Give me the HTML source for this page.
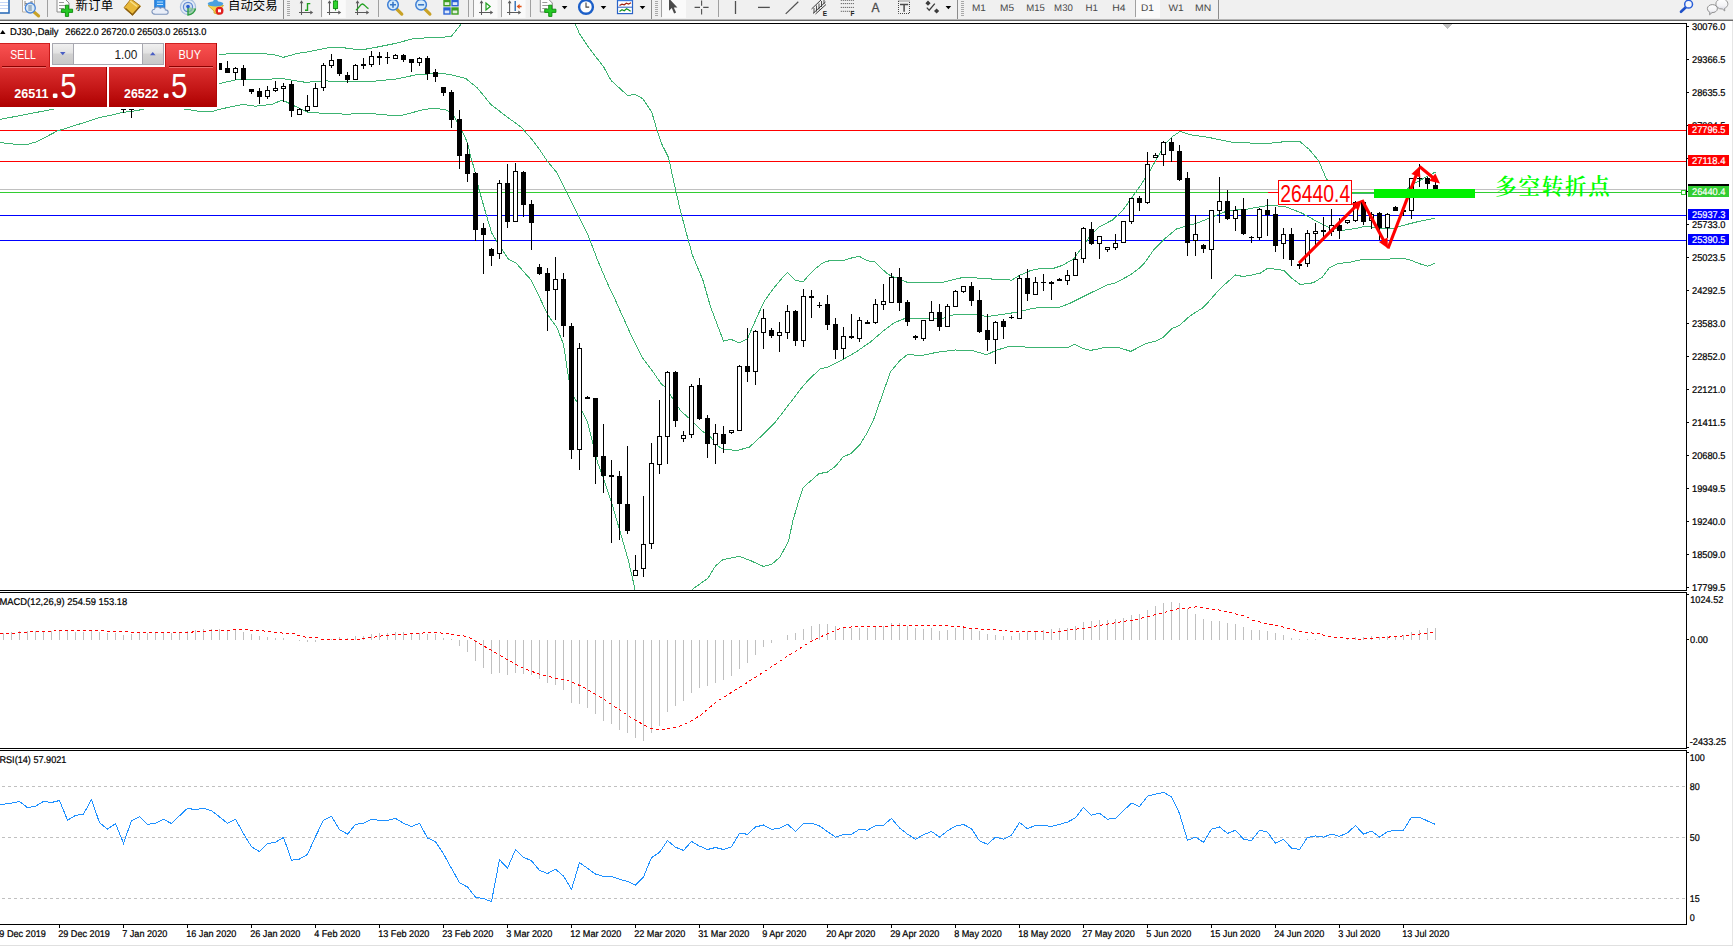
<!DOCTYPE html><html><head><meta charset="utf-8"><title>DJ30-,Daily</title>
<style>
html,body{margin:0;padding:0;background:#fff;}
body{width:1733px;height:946px;overflow:hidden;position:relative;font-family:"Liberation Sans", sans-serif;}
#tb{position:absolute;left:0;top:0;width:1733px;height:19px;background:#f0f0f0;}
#tbl1{position:absolute;left:0;top:19px;width:1733px;height:1px;background:#b4b4b4;}
#tbl2{position:absolute;left:0;top:20px;width:1733px;height:1px;background:#696969;}
svg{position:absolute;left:0;top:0;}
.t{font-family:"Liberation Sans", sans-serif;font-size:9.8px;text-rendering:geometricPrecision;fill:#000;stroke:#000;stroke-width:0.22px;}
.tw{font-family:"Liberation Sans", sans-serif;font-size:9.8px;text-rendering:geometricPrecision;fill:#fff;stroke:#fff;stroke-width:0.2px;}
.tf{font-family:"Liberation Sans", sans-serif;font-size:9.8px;text-rendering:geometricPrecision;fill:#505050;}
</style></head><body>
<div id="tb"></div><div id="tbl1"></div><div id="tbl2"></div>
<svg id="chart" width="1733" height="946" viewBox="0 0 1733 946">
<defs>
<clipPath id="ctb"><rect x="0" y="0" width="1733" height="19"/></clipPath>
<clipPath id="cm"><rect x="0" y="24" width="1686" height="566"/></clipPath>
<clipPath id="cmacd"><rect x="0" y="593" width="1686" height="155"/></clipPath>
<clipPath id="crsi"><rect x="0" y="751" width="1686" height="173"/></clipPath>
<linearGradient id="gtab" x1="0" y1="0" x2="0" y2="1"><stop offset="0" stop-color="#fa5252"/><stop offset="1" stop-color="#e23636"/></linearGradient>
<linearGradient id="gblk" x1="0" y1="0" x2="0" y2="1"><stop offset="0" stop-color="#dc3030"/><stop offset="0.55" stop-color="#c41616"/><stop offset="1" stop-color="#ae0000"/></linearGradient>
<linearGradient id="gbtn" x1="0" y1="0" x2="0" y2="1"><stop offset="0" stop-color="#f0f0f0"/><stop offset="0.45" stop-color="#e2e2e2"/><stop offset="0.5" stop-color="#d2d2d2"/><stop offset="1" stop-color="#c8c8c8"/></linearGradient>
<linearGradient id="gbub" x1="0" y1="0" x2="0" y2="1"><stop offset="0" stop-color="#ffffff"/><stop offset="0.55" stop-color="#f4f4f6"/><stop offset="1" stop-color="#cfd0dc"/></linearGradient>
</defs>
<g shape-rendering="crispEdges">
<rect x="0" y="23" width="1687" height="1" fill="#000"/>
<rect x="1686" y="23" width="1" height="902" fill="#000"/>
<rect x="0" y="590" width="1687" height="1" fill="#000"/>
<rect x="0" y="592" width="1687" height="1" fill="#000"/>
<rect x="0" y="748" width="1687" height="1" fill="#000"/>
<rect x="0" y="750" width="1687" height="1" fill="#000"/>
<rect x="0" y="924" width="1687" height="1" fill="#000"/>
<rect x="1686" y="591" width="1" height="1" fill="#fff"/>
<rect x="1686" y="749" width="1" height="1" fill="#fff"/>
<rect x="1732" y="21" width="1" height="925" fill="#e6e6e6"/>
<rect x="0" y="945" width="1733" height="1" fill="#e0e0e0"/>
</g>
<g clip-path="url(#cm)">
<g shape-rendering="crispEdges">
<rect x="0" y="130" width="1686" height="1" fill="#ff0000"/>
<rect x="0" y="161" width="1686" height="1" fill="#ff0000"/>
<rect x="0" y="189" width="1686" height="1" fill="#c0c0c0"/>
<rect x="0" y="192" width="1686" height="1" fill="#32cd32"/>
<rect x="0" y="215" width="1686" height="1" fill="#0000ff"/>
<rect x="0" y="240" width="1686" height="1" fill="#0000ff"/>
</g>
<polyline points="0.0,78.0 100.0,68.0 219.4,55.0 231.4,53.1 261.0,53.5 274.0,54.6 283.2,57.4 296.2,53.7 311.0,51.3 329.5,47.6 342.4,47.6 361.0,50.0 377.6,47.0 396.0,43.3 414.6,38.3 440.0,37.5 451.3,36.3 461.0,24.3 466.0,10.0 520.0,-40.0 570.0,8.0 575.1,23.5 579.6,34.0 588.6,47.5 603.7,67.0 611.2,80.6 627.7,95.6 635.2,94.4 642.7,98.6 651.7,112.1 657.0,130.1 662.2,145.1 664.8,150.0 668.5,157.4 674.9,187.0 680.5,211.0 687.9,238.8 692.5,255.4 702.7,279.5 710.1,305.4 714.2,316.6 723.5,341.1 730.9,339.2 739.2,343.1 747.5,338.8 752.1,328.0 758.6,313.5 764.2,301.4 770.7,292.1 778.1,282.8 783.7,276.3 787.4,272.3 795.3,280.5 803.3,281.6 807.0,277.2 815.3,268.8 820.9,264.2 826.5,261.4 832.1,260.3 844.2,260.3 849.8,258.4 859.1,256.3 867.4,260.7 874.9,262.0 886.0,272.6 890.7,275.8 897.2,278.1 907.3,282.3 925.8,282.5 944.3,282.0 960.9,277.9 975.7,277.9 994.2,279.2 1011.8,280.1 1020.1,275.1 1031.2,270.3 1040.5,268.6 1051.6,269.0 1062.7,265.3 1073.8,258.8 1083.0,245.9 1090.4,235.7 1098.5,227.3 1112.6,219.9 1122.5,210.6 1131.8,197.7 1141.0,184.7 1150.3,169.9 1157.7,157.0 1165.1,144.0 1172.5,136.6 1179.9,131.5 1191.0,134.8 1209.5,137.6 1231.7,142.2 1265.0,143.7 1283.5,141.8 1300.1,141.8 1309.4,149.6 1318.6,160.7 1326.5,179.1 1335.0,188.0 1345.0,192.5 1352.0,193.6 1374.0,193.8 1395.0,193.5 1403.5,193.0 1411.5,185.0 1419.5,180.6 1427.5,176.3 1435.5,172.0" fill="none" stroke="#3cb371" stroke-width="1" shape-rendering="crispEdges"/>
<polyline points="0.0,119.4 54.6,108.9 120.0,97.0 219.4,83.6 235.0,80.0 261.0,79.6 281.4,78.5 305.4,82.3 325.8,80.9 348.0,81.8 372.0,81.4 396.0,79.0 418.3,74.4 440.0,73.5 449.0,74.3 465.5,78.3 477.5,88.1 491.0,104.6 507.6,117.3 521.1,127.1 531.6,139.1 539.9,150.0 547.3,161.1 556.5,172.2 565.8,190.7 577.8,214.7 588.0,235.1 597.2,259.1 606.5,281.3 615.3,300.0 623.6,318.5 632.8,338.8 642.1,357.3 653.2,372.1 661.5,384.2 666.1,387.9 673.5,399.9 680.9,411.0 690.2,419.3 701.3,430.4 710.5,436.9 717.9,446.1 724.4,449.8 738.3,450.2 749.4,447.1 760.5,436.9 775.3,422.1 788.2,405.4 800.0,389.8 809.2,379.1 820.3,368.9 827.7,367.1 842.5,359.7 855.5,352.3 870.3,342.1 883.2,331.0 894.3,322.7 903.6,319.0 920.2,318.6 944.3,318.0 953.5,314.9 975.7,314.3 986.8,316.6 1003.5,314.3 1018.3,311.9 1031.2,308.8 1040.5,307.3 1059.0,307.5 1070.1,303.2 1084.9,295.8 1100.0,288.4 1107.0,284.9 1115.1,283.1 1130.2,275.0 1139.5,268.0 1144.2,263.4 1154.0,249.5 1165.1,238.4 1176.2,229.1 1183.6,226.9 1198.4,222.7 1209.5,218.0 1218.7,214.3 1228.0,210.6 1246.5,209.2 1260.0,206.8 1268.3,205.4 1284.9,206.5 1301.6,213.0 1315.4,220.6 1327.9,226.9 1343.1,230.3 1357.0,228.3 1365.3,226.2 1379.1,228.3 1391.6,228.9 1405.4,224.8 1419.3,221.3 1435.2,218.1" fill="none" stroke="#3cb371" stroke-width="1" shape-rendering="crispEdges"/>
<polyline points="0.0,142.5 16.6,144.4 27.7,144.4 37.0,141.6 57.3,131.0 79.5,124.0 100.0,117.5 113.0,114.7 123.0,112.3 131.0,111.5 137.0,110.6 144.3,108.9 165.0,104.0 184.0,109.0 200.0,111.4 212.7,111.5 218.5,109.5 242.5,104.4 255.5,106.2 272.0,104.4 282.3,100.0 296.2,106.8 307.3,112.3 329.5,113.6 348.0,114.2 366.5,113.2 392.4,115.5 403.5,115.0 422.0,110.0 435.0,108.0 440.0,109.1 447.5,110.3 454.3,116.6 462.5,131.6 467.8,143.6 470.8,157.1 474.2,168.5 478.8,188.8 486.2,214.7 491.8,233.2 496.4,240.6 502.9,250.8 508.4,259.1 515.8,262.8 530.6,279.5 539.9,298.0 547.7,314.8 557.0,327.7 563.5,344.4 568.5,377.7 573.6,396.2 581.0,409.1 587.5,422.1 592.1,440.6 597.7,462.8 602.5,475.5 611.8,503.2 621.0,534.7 628.4,560.6 633.1,580.9 634.9,589.3 640.0,615.0 662.0,640.0 685.0,600.0 692.3,589.3 708.0,578.2 715.4,566.1 722.8,559.7 739.4,556.3 750.5,560.6 763.5,566.5 771.8,564.3 780.1,556.9 788.5,541.2 793.1,519.9 798.6,501.4 803.2,487.5 819.0,473.6 827.3,472.2 835.6,466.2 843.0,457.0 851.3,453.3 859.7,445.0 867.1,432.9 873.5,420.0 882.3,395.0 890.6,371.7 899.9,360.6 907.3,354.7 922.1,355.4 936.9,352.3 955.4,350.0 973.9,351.0 986.8,354.7 996.1,350.4 1009.0,346.3 1031.2,347.3 1049.7,347.6 1068.2,347.3 1074.7,344.3 1083.0,348.6 1090.4,350.4 1100.0,348.6 1105.8,347.1 1117.4,347.1 1130.8,351.4 1146.5,343.3 1155.8,341.0 1163.4,337.2 1172.1,328.5 1179.7,325.3 1189.5,316.3 1202.3,308.1 1207.0,303.5 1219.8,289.0 1231.4,278.5 1235.5,275.0 1243.0,276.5 1252.3,275.0 1260.5,273.0 1267.4,268.4 1272.1,268.6 1276.7,269.5 1283.7,270.3 1290.7,277.3 1300.0,284.5 1313.1,282.8 1322.3,277.2 1329.3,267.7 1337.6,263.6 1350.0,262.2 1362.5,259.4 1384.7,259.4 1402.7,258.0 1412.4,260.8 1419.3,263.6 1427.6,266.3 1435.2,263.3" fill="none" stroke="#3cb371" stroke-width="1" shape-rendering="crispEdges"/>
<g shape-rendering="crispEdges">
<rect x="219" y="63" width="1" height="7" fill="#000"/>
<rect x="217" y="63" width="5" height="7" fill="#000"/>
<rect x="227" y="61" width="1" height="12" fill="#000"/>
<rect x="225" y="68" width="5" height="5" fill="#000"/>
<rect x="235" y="67" width="1" height="13" fill="#000"/>
<rect x="233" y="68" width="5" height="5" fill="#000"/>
<rect x="234" y="69" width="3" height="3" fill="#fff"/>
<rect x="243" y="65" width="1" height="21" fill="#000"/>
<rect x="241" y="68" width="5" height="12" fill="#000"/>
<rect x="251" y="89" width="1" height="5" fill="#000"/>
<rect x="249" y="89" width="5" height="3" fill="#000"/>
<rect x="259" y="88" width="1" height="16" fill="#000"/>
<rect x="257" y="91" width="5" height="6" fill="#000"/>
<rect x="267" y="86" width="1" height="13" fill="#000"/>
<rect x="265" y="90" width="5" height="7" fill="#000"/>
<rect x="266" y="91" width="3" height="5" fill="#fff"/>
<rect x="275" y="81" width="1" height="11" fill="#000"/>
<rect x="273" y="88" width="5" height="3" fill="#000"/>
<rect x="274" y="89" width="3" height="1" fill="#fff"/>
<rect x="283" y="83" width="1" height="19" fill="#000"/>
<rect x="281" y="86" width="5" height="3" fill="#000"/>
<rect x="282" y="87" width="3" height="1" fill="#fff"/>
<rect x="291" y="81" width="1" height="36" fill="#000"/>
<rect x="289" y="84" width="5" height="27" fill="#000"/>
<rect x="299" y="108" width="1" height="7" fill="#000"/>
<rect x="297" y="109" width="5" height="6" fill="#000"/>
<rect x="298" y="110" width="3" height="4" fill="#fff"/>
<rect x="307" y="95" width="1" height="17" fill="#000"/>
<rect x="305" y="106" width="5" height="5" fill="#000"/>
<rect x="306" y="107" width="3" height="3" fill="#fff"/>
<rect x="315" y="83" width="1" height="24" fill="#000"/>
<rect x="313" y="88" width="5" height="19" fill="#000"/>
<rect x="314" y="89" width="3" height="17" fill="#fff"/>
<rect x="323" y="63" width="1" height="28" fill="#000"/>
<rect x="321" y="65" width="5" height="23" fill="#000"/>
<rect x="322" y="66" width="3" height="21" fill="#fff"/>
<rect x="331" y="54" width="1" height="14" fill="#000"/>
<rect x="329" y="60" width="5" height="6" fill="#000"/>
<rect x="330" y="61" width="3" height="4" fill="#fff"/>
<rect x="339" y="59" width="1" height="17" fill="#000"/>
<rect x="337" y="59" width="5" height="15" fill="#000"/>
<rect x="347" y="72" width="1" height="11" fill="#000"/>
<rect x="345" y="75" width="5" height="5" fill="#000"/>
<rect x="355" y="64" width="1" height="16" fill="#000"/>
<rect x="353" y="65" width="5" height="15" fill="#000"/>
<rect x="354" y="66" width="3" height="13" fill="#fff"/>
<rect x="363" y="58" width="1" height="11" fill="#000"/>
<rect x="361" y="64" width="5" height="2" fill="#000"/>
<rect x="371" y="51" width="1" height="16" fill="#000"/>
<rect x="369" y="56" width="5" height="9" fill="#000"/>
<rect x="370" y="57" width="3" height="7" fill="#fff"/>
<rect x="379" y="52" width="1" height="13" fill="#000"/>
<rect x="377" y="56" width="5" height="2" fill="#000"/>
<rect x="387" y="52" width="1" height="12" fill="#000"/>
<rect x="385" y="57" width="5" height="1" fill="#000"/>
<rect x="395" y="54" width="1" height="5" fill="#000"/>
<rect x="393" y="55" width="5" height="4" fill="#000"/>
<rect x="394" y="56" width="3" height="2" fill="#fff"/>
<rect x="403" y="54" width="1" height="8" fill="#000"/>
<rect x="401" y="55" width="5" height="5" fill="#000"/>
<rect x="411" y="59" width="1" height="13" fill="#000"/>
<rect x="409" y="59" width="5" height="4" fill="#000"/>
<rect x="419" y="57" width="1" height="9" fill="#000"/>
<rect x="417" y="58" width="5" height="5" fill="#000"/>
<rect x="418" y="59" width="3" height="3" fill="#fff"/>
<rect x="427" y="56" width="1" height="24" fill="#000"/>
<rect x="425" y="58" width="5" height="16" fill="#000"/>
<rect x="435" y="69" width="1" height="13" fill="#000"/>
<rect x="433" y="72" width="5" height="5" fill="#000"/>
<rect x="443" y="87" width="1" height="9" fill="#000"/>
<rect x="441" y="87" width="5" height="6" fill="#000"/>
<rect x="451" y="90" width="1" height="38" fill="#000"/>
<rect x="449" y="92" width="5" height="28" fill="#000"/>
<rect x="459" y="110" width="1" height="59" fill="#000"/>
<rect x="457" y="119" width="5" height="37" fill="#000"/>
<rect x="467" y="143" width="1" height="39" fill="#000"/>
<rect x="465" y="154" width="5" height="20" fill="#000"/>
<rect x="475" y="172" width="1" height="69" fill="#000"/>
<rect x="473" y="173" width="5" height="57" fill="#000"/>
<rect x="483" y="223" width="1" height="51" fill="#000"/>
<rect x="481" y="228" width="5" height="7" fill="#000"/>
<rect x="491" y="248" width="1" height="18" fill="#000"/>
<rect x="489" y="249" width="5" height="7" fill="#000"/>
<rect x="499" y="180" width="1" height="79" fill="#000"/>
<rect x="497" y="183" width="5" height="71" fill="#000"/>
<rect x="498" y="184" width="3" height="69" fill="#fff"/>
<rect x="507" y="164" width="1" height="64" fill="#000"/>
<rect x="505" y="183" width="5" height="39" fill="#000"/>
<rect x="515" y="163" width="1" height="59" fill="#000"/>
<rect x="513" y="171" width="5" height="51" fill="#000"/>
<rect x="514" y="172" width="3" height="49" fill="#fff"/>
<rect x="523" y="171" width="1" height="46" fill="#000"/>
<rect x="521" y="172" width="5" height="33" fill="#000"/>
<rect x="531" y="200" width="1" height="50" fill="#000"/>
<rect x="529" y="204" width="5" height="19" fill="#000"/>
<rect x="539" y="264" width="1" height="11" fill="#000"/>
<rect x="537" y="267" width="5" height="7" fill="#000"/>
<rect x="547" y="268" width="1" height="63" fill="#000"/>
<rect x="545" y="273" width="5" height="18" fill="#000"/>
<rect x="555" y="257" width="1" height="63" fill="#000"/>
<rect x="553" y="279" width="5" height="11" fill="#000"/>
<rect x="554" y="280" width="3" height="9" fill="#fff"/>
<rect x="563" y="273" width="1" height="64" fill="#000"/>
<rect x="561" y="279" width="5" height="47" fill="#000"/>
<rect x="571" y="323" width="1" height="136" fill="#000"/>
<rect x="569" y="326" width="5" height="124" fill="#000"/>
<rect x="579" y="343" width="1" height="127" fill="#000"/>
<rect x="577" y="348" width="5" height="102" fill="#000"/>
<rect x="578" y="349" width="3" height="100" fill="#fff"/>
<rect x="587" y="396" width="1" height="3" fill="#000"/>
<rect x="585" y="397" width="5" height="2" fill="#000"/>
<rect x="595" y="398" width="1" height="86" fill="#000"/>
<rect x="593" y="398" width="5" height="59" fill="#000"/>
<rect x="603" y="424" width="1" height="69" fill="#000"/>
<rect x="601" y="456" width="5" height="20" fill="#000"/>
<rect x="611" y="460" width="1" height="83" fill="#000"/>
<rect x="609" y="475" width="5" height="2" fill="#000"/>
<rect x="619" y="471" width="1" height="69" fill="#000"/>
<rect x="617" y="476" width="5" height="28" fill="#000"/>
<rect x="627" y="446" width="1" height="88" fill="#000"/>
<rect x="625" y="504" width="5" height="27" fill="#000"/>
<rect x="635" y="555" width="1" height="21" fill="#000"/>
<rect x="633" y="570" width="5" height="6" fill="#000"/>
<rect x="634" y="571" width="3" height="4" fill="#fff"/>
<rect x="643" y="496" width="1" height="81" fill="#000"/>
<rect x="641" y="544" width="5" height="25" fill="#000"/>
<rect x="642" y="545" width="3" height="23" fill="#fff"/>
<rect x="651" y="443" width="1" height="106" fill="#000"/>
<rect x="649" y="463" width="5" height="81" fill="#000"/>
<rect x="650" y="464" width="3" height="79" fill="#fff"/>
<rect x="659" y="400" width="1" height="74" fill="#000"/>
<rect x="657" y="436" width="5" height="29" fill="#000"/>
<rect x="658" y="437" width="3" height="27" fill="#fff"/>
<rect x="667" y="371" width="1" height="93" fill="#000"/>
<rect x="665" y="372" width="5" height="65" fill="#000"/>
<rect x="666" y="373" width="3" height="63" fill="#fff"/>
<rect x="675" y="371" width="1" height="56" fill="#000"/>
<rect x="673" y="372" width="5" height="49" fill="#000"/>
<rect x="683" y="431" width="1" height="11" fill="#000"/>
<rect x="681" y="435" width="5" height="4" fill="#000"/>
<rect x="682" y="436" width="3" height="2" fill="#fff"/>
<rect x="691" y="384" width="1" height="54" fill="#000"/>
<rect x="689" y="386" width="5" height="49" fill="#000"/>
<rect x="690" y="387" width="3" height="47" fill="#fff"/>
<rect x="699" y="378" width="1" height="42" fill="#000"/>
<rect x="697" y="385" width="5" height="34" fill="#000"/>
<rect x="707" y="415" width="1" height="43" fill="#000"/>
<rect x="705" y="418" width="5" height="26" fill="#000"/>
<rect x="715" y="424" width="1" height="40" fill="#000"/>
<rect x="713" y="433" width="5" height="12" fill="#000"/>
<rect x="714" y="434" width="3" height="10" fill="#fff"/>
<rect x="723" y="426" width="1" height="27" fill="#000"/>
<rect x="721" y="434" width="5" height="10" fill="#000"/>
<rect x="731" y="430" width="1" height="4" fill="#000"/>
<rect x="729" y="430" width="5" height="3" fill="#000"/>
<rect x="730" y="431" width="3" height="1" fill="#fff"/>
<rect x="739" y="365" width="1" height="66" fill="#000"/>
<rect x="737" y="366" width="5" height="65" fill="#000"/>
<rect x="738" y="367" width="3" height="63" fill="#fff"/>
<rect x="747" y="328" width="1" height="54" fill="#000"/>
<rect x="745" y="366" width="5" height="6" fill="#000"/>
<rect x="755" y="330" width="1" height="55" fill="#000"/>
<rect x="753" y="331" width="5" height="41" fill="#000"/>
<rect x="754" y="332" width="3" height="39" fill="#fff"/>
<rect x="763" y="309" width="1" height="40" fill="#000"/>
<rect x="761" y="318" width="5" height="15" fill="#000"/>
<rect x="762" y="319" width="3" height="13" fill="#fff"/>
<rect x="771" y="328" width="1" height="10" fill="#000"/>
<rect x="769" y="330" width="5" height="6" fill="#000"/>
<rect x="779" y="322" width="1" height="30" fill="#000"/>
<rect x="777" y="332" width="5" height="4" fill="#000"/>
<rect x="778" y="333" width="3" height="2" fill="#fff"/>
<rect x="787" y="305" width="1" height="34" fill="#000"/>
<rect x="785" y="311" width="5" height="22" fill="#000"/>
<rect x="786" y="312" width="3" height="20" fill="#fff"/>
<rect x="795" y="310" width="1" height="36" fill="#000"/>
<rect x="793" y="311" width="5" height="30" fill="#000"/>
<rect x="803" y="289" width="1" height="58" fill="#000"/>
<rect x="801" y="296" width="5" height="45" fill="#000"/>
<rect x="802" y="297" width="3" height="43" fill="#fff"/>
<rect x="811" y="290" width="1" height="28" fill="#000"/>
<rect x="809" y="296" width="5" height="2" fill="#000"/>
<rect x="819" y="302" width="1" height="6" fill="#000"/>
<rect x="817" y="305" width="5" height="1" fill="#000"/>
<rect x="827" y="295" width="1" height="35" fill="#000"/>
<rect x="825" y="304" width="5" height="21" fill="#000"/>
<rect x="835" y="318" width="1" height="41" fill="#000"/>
<rect x="833" y="324" width="5" height="26" fill="#000"/>
<rect x="843" y="327" width="1" height="32" fill="#000"/>
<rect x="841" y="336" width="5" height="13" fill="#000"/>
<rect x="842" y="337" width="3" height="11" fill="#fff"/>
<rect x="851" y="314" width="1" height="25" fill="#000"/>
<rect x="849" y="336" width="5" height="2" fill="#000"/>
<rect x="859" y="317" width="1" height="25" fill="#000"/>
<rect x="857" y="320" width="5" height="19" fill="#000"/>
<rect x="858" y="321" width="3" height="17" fill="#fff"/>
<rect x="867" y="320" width="1" height="4" fill="#000"/>
<rect x="865" y="322" width="5" height="2" fill="#000"/>
<rect x="875" y="299" width="1" height="25" fill="#000"/>
<rect x="873" y="304" width="5" height="19" fill="#000"/>
<rect x="874" y="305" width="3" height="17" fill="#fff"/>
<rect x="883" y="284" width="1" height="26" fill="#000"/>
<rect x="881" y="301" width="5" height="4" fill="#000"/>
<rect x="882" y="302" width="3" height="2" fill="#fff"/>
<rect x="891" y="273" width="1" height="30" fill="#000"/>
<rect x="889" y="277" width="5" height="26" fill="#000"/>
<rect x="890" y="278" width="3" height="24" fill="#fff"/>
<rect x="899" y="268" width="1" height="43" fill="#000"/>
<rect x="897" y="277" width="5" height="26" fill="#000"/>
<rect x="907" y="300" width="1" height="26" fill="#000"/>
<rect x="905" y="302" width="5" height="20" fill="#000"/>
<rect x="915" y="335" width="1" height="5" fill="#000"/>
<rect x="913" y="336" width="5" height="2" fill="#000"/>
<rect x="923" y="320" width="1" height="21" fill="#000"/>
<rect x="921" y="320" width="5" height="19" fill="#000"/>
<rect x="922" y="321" width="3" height="17" fill="#fff"/>
<rect x="931" y="301" width="1" height="20" fill="#000"/>
<rect x="929" y="312" width="5" height="9" fill="#000"/>
<rect x="930" y="313" width="3" height="7" fill="#fff"/>
<rect x="939" y="304" width="1" height="27" fill="#000"/>
<rect x="937" y="312" width="5" height="15" fill="#000"/>
<rect x="947" y="304" width="1" height="23" fill="#000"/>
<rect x="945" y="306" width="5" height="21" fill="#000"/>
<rect x="946" y="307" width="3" height="19" fill="#fff"/>
<rect x="955" y="290" width="1" height="17" fill="#000"/>
<rect x="953" y="291" width="5" height="16" fill="#000"/>
<rect x="954" y="292" width="3" height="14" fill="#fff"/>
<rect x="963" y="286" width="1" height="7" fill="#000"/>
<rect x="961" y="286" width="5" height="6" fill="#000"/>
<rect x="962" y="287" width="3" height="4" fill="#fff"/>
<rect x="971" y="282" width="1" height="24" fill="#000"/>
<rect x="969" y="286" width="5" height="15" fill="#000"/>
<rect x="979" y="290" width="1" height="43" fill="#000"/>
<rect x="977" y="300" width="5" height="32" fill="#000"/>
<rect x="987" y="314" width="1" height="37" fill="#000"/>
<rect x="985" y="330" width="5" height="10" fill="#000"/>
<rect x="995" y="321" width="1" height="43" fill="#000"/>
<rect x="993" y="322" width="5" height="18" fill="#000"/>
<rect x="994" y="323" width="3" height="16" fill="#fff"/>
<rect x="1003" y="319" width="1" height="20" fill="#000"/>
<rect x="1001" y="321" width="5" height="6" fill="#000"/>
<rect x="1011" y="315" width="1" height="4" fill="#000"/>
<rect x="1009" y="317" width="5" height="1" fill="#000"/>
<rect x="1019" y="275" width="1" height="44" fill="#000"/>
<rect x="1017" y="278" width="5" height="41" fill="#000"/>
<rect x="1018" y="279" width="3" height="39" fill="#fff"/>
<rect x="1027" y="269" width="1" height="32" fill="#000"/>
<rect x="1025" y="278" width="5" height="16" fill="#000"/>
<rect x="1035" y="277" width="1" height="18" fill="#000"/>
<rect x="1033" y="282" width="5" height="13" fill="#000"/>
<rect x="1034" y="283" width="3" height="11" fill="#fff"/>
<rect x="1043" y="274" width="1" height="17" fill="#000"/>
<rect x="1041" y="282" width="5" height="1" fill="#000"/>
<rect x="1051" y="281" width="1" height="19" fill="#000"/>
<rect x="1049" y="282" width="5" height="2" fill="#000"/>
<rect x="1059" y="278" width="1" height="3" fill="#000"/>
<rect x="1057" y="279" width="5" height="2" fill="#000"/>
<rect x="1067" y="270" width="1" height="15" fill="#000"/>
<rect x="1065" y="275" width="5" height="6" fill="#000"/>
<rect x="1066" y="276" width="3" height="4" fill="#fff"/>
<rect x="1075" y="252" width="1" height="24" fill="#000"/>
<rect x="1073" y="259" width="5" height="17" fill="#000"/>
<rect x="1074" y="260" width="3" height="15" fill="#fff"/>
<rect x="1083" y="227" width="1" height="36" fill="#000"/>
<rect x="1081" y="228" width="5" height="31" fill="#000"/>
<rect x="1082" y="229" width="3" height="29" fill="#fff"/>
<rect x="1091" y="222" width="1" height="23" fill="#000"/>
<rect x="1089" y="229" width="5" height="15" fill="#000"/>
<rect x="1099" y="236" width="1" height="23" fill="#000"/>
<rect x="1097" y="236" width="5" height="8" fill="#000"/>
<rect x="1098" y="237" width="3" height="6" fill="#fff"/>
<rect x="1107" y="247" width="1" height="5" fill="#000"/>
<rect x="1105" y="247" width="5" height="3" fill="#000"/>
<rect x="1106" y="248" width="3" height="1" fill="#fff"/>
<rect x="1115" y="234" width="1" height="16" fill="#000"/>
<rect x="1113" y="243" width="5" height="5" fill="#000"/>
<rect x="1114" y="244" width="3" height="3" fill="#fff"/>
<rect x="1123" y="221" width="1" height="22" fill="#000"/>
<rect x="1121" y="221" width="5" height="22" fill="#000"/>
<rect x="1122" y="222" width="3" height="20" fill="#fff"/>
<rect x="1131" y="198" width="1" height="26" fill="#000"/>
<rect x="1129" y="198" width="5" height="24" fill="#000"/>
<rect x="1130" y="199" width="3" height="22" fill="#fff"/>
<rect x="1139" y="196" width="1" height="15" fill="#000"/>
<rect x="1137" y="198" width="5" height="5" fill="#000"/>
<rect x="1147" y="152" width="1" height="52" fill="#000"/>
<rect x="1145" y="164" width="5" height="39" fill="#000"/>
<rect x="1146" y="165" width="3" height="37" fill="#fff"/>
<rect x="1155" y="153" width="1" height="5" fill="#000"/>
<rect x="1153" y="155" width="5" height="3" fill="#000"/>
<rect x="1154" y="156" width="3" height="1" fill="#fff"/>
<rect x="1163" y="141" width="1" height="25" fill="#000"/>
<rect x="1161" y="142" width="5" height="13" fill="#000"/>
<rect x="1162" y="143" width="3" height="11" fill="#fff"/>
<rect x="1171" y="138" width="1" height="24" fill="#000"/>
<rect x="1169" y="142" width="5" height="9" fill="#000"/>
<rect x="1179" y="145" width="1" height="36" fill="#000"/>
<rect x="1177" y="151" width="5" height="29" fill="#000"/>
<rect x="1187" y="172" width="1" height="84" fill="#000"/>
<rect x="1185" y="178" width="5" height="65" fill="#000"/>
<rect x="1195" y="215" width="1" height="41" fill="#000"/>
<rect x="1193" y="234" width="5" height="7" fill="#000"/>
<rect x="1194" y="235" width="3" height="5" fill="#fff"/>
<rect x="1203" y="244" width="1" height="9" fill="#000"/>
<rect x="1201" y="245" width="5" height="4" fill="#000"/>
<rect x="1211" y="210" width="1" height="69" fill="#000"/>
<rect x="1209" y="210" width="5" height="40" fill="#000"/>
<rect x="1210" y="211" width="3" height="38" fill="#fff"/>
<rect x="1219" y="177" width="1" height="46" fill="#000"/>
<rect x="1217" y="201" width="5" height="10" fill="#000"/>
<rect x="1218" y="202" width="3" height="8" fill="#fff"/>
<rect x="1227" y="190" width="1" height="30" fill="#000"/>
<rect x="1225" y="201" width="5" height="18" fill="#000"/>
<rect x="1235" y="206" width="1" height="25" fill="#000"/>
<rect x="1233" y="210" width="5" height="9" fill="#000"/>
<rect x="1234" y="211" width="3" height="7" fill="#fff"/>
<rect x="1243" y="198" width="1" height="37" fill="#000"/>
<rect x="1241" y="209" width="5" height="25" fill="#000"/>
<rect x="1251" y="236" width="1" height="7" fill="#000"/>
<rect x="1249" y="237" width="5" height="1" fill="#000"/>
<rect x="1259" y="208" width="1" height="32" fill="#000"/>
<rect x="1257" y="209" width="5" height="29" fill="#000"/>
<rect x="1258" y="210" width="3" height="27" fill="#fff"/>
<rect x="1267" y="199" width="1" height="37" fill="#000"/>
<rect x="1265" y="210" width="5" height="5" fill="#000"/>
<rect x="1275" y="207" width="1" height="45" fill="#000"/>
<rect x="1273" y="214" width="5" height="32" fill="#000"/>
<rect x="1283" y="228" width="1" height="31" fill="#000"/>
<rect x="1281" y="234" width="5" height="10" fill="#000"/>
<rect x="1282" y="235" width="3" height="8" fill="#fff"/>
<rect x="1291" y="228" width="1" height="38" fill="#000"/>
<rect x="1289" y="234" width="5" height="26" fill="#000"/>
<rect x="1299" y="262" width="1" height="7" fill="#000"/>
<rect x="1297" y="264" width="5" height="2" fill="#000"/>
<rect x="1307" y="230" width="1" height="37" fill="#000"/>
<rect x="1305" y="233" width="5" height="31" fill="#000"/>
<rect x="1306" y="234" width="3" height="29" fill="#fff"/>
<rect x="1315" y="223" width="1" height="22" fill="#000"/>
<rect x="1313" y="231" width="5" height="3" fill="#000"/>
<rect x="1314" y="232" width="3" height="1" fill="#fff"/>
<rect x="1323" y="217" width="1" height="24" fill="#000"/>
<rect x="1321" y="230" width="5" height="2" fill="#000"/>
<rect x="1331" y="209" width="1" height="27" fill="#000"/>
<rect x="1329" y="225" width="5" height="7" fill="#000"/>
<rect x="1330" y="226" width="3" height="5" fill="#fff"/>
<rect x="1339" y="218" width="1" height="21" fill="#000"/>
<rect x="1337" y="225" width="5" height="6" fill="#000"/>
<rect x="1347" y="220" width="1" height="4" fill="#000"/>
<rect x="1345" y="220" width="5" height="3" fill="#000"/>
<rect x="1346" y="221" width="3" height="1" fill="#fff"/>
<rect x="1355" y="201" width="1" height="21" fill="#000"/>
<rect x="1353" y="202" width="5" height="19" fill="#000"/>
<rect x="1354" y="203" width="3" height="17" fill="#fff"/>
<rect x="1363" y="202" width="1" height="23" fill="#000"/>
<rect x="1361" y="202" width="5" height="20" fill="#000"/>
<rect x="1371" y="212" width="1" height="17" fill="#000"/>
<rect x="1369" y="214" width="5" height="7" fill="#000"/>
<rect x="1370" y="215" width="3" height="5" fill="#fff"/>
<rect x="1379" y="212" width="1" height="28" fill="#000"/>
<rect x="1377" y="213" width="5" height="15" fill="#000"/>
<rect x="1387" y="213" width="1" height="25" fill="#000"/>
<rect x="1385" y="214" width="5" height="14" fill="#000"/>
<rect x="1386" y="215" width="3" height="12" fill="#fff"/>
<rect x="1395" y="206" width="1" height="5" fill="#000"/>
<rect x="1393" y="207" width="5" height="4" fill="#000"/>
<rect x="1403" y="209" width="1" height="7" fill="#000"/>
<rect x="1401" y="210" width="5" height="2" fill="#000"/>
<rect x="1411" y="178" width="1" height="41" fill="#000"/>
<rect x="1409" y="178" width="5" height="33" fill="#000"/>
<rect x="1410" y="179" width="3" height="31" fill="#fff"/>
<rect x="1419" y="164" width="1" height="23" fill="#000"/>
<rect x="1417" y="178" width="5" height="1" fill="#000"/>
<rect x="1427" y="177" width="1" height="12" fill="#000"/>
<rect x="1425" y="178" width="5" height="6" fill="#000"/>
<rect x="1435" y="180" width="1" height="10" fill="#000"/>
<rect x="1433" y="185" width="5" height="5" fill="#000"/>
<rect x="121" y="109" width="5" height="1" fill="#000"/><rect x="123" y="109" width="1" height="4" fill="#000"/>
<rect x="129" y="109" width="5" height="1" fill="#000"/><rect x="131" y="109" width="1" height="9" fill="#000"/>
<polygon points="1442,24 1453,24 1447.5,29" fill="#c0c0c0"/>
</g>
<g shape-rendering="crispEdges">
<rect x="1268" y="192" width="10" height="1" fill="#ff0000"/>
</g>
<line x1="1299.0" y1="263.0" x2="1355.6" y2="206.4" stroke="#ff0000" stroke-width="3.1"/>
<polygon points="1362.0,200.0 1358.3,210.5 1351.5,203.7" fill="#ff0000"/>
<line x1="1362.0" y1="200.0" x2="1383.7" y2="240.6" stroke="#ff0000" stroke-width="3.1"/>
<polygon points="1388.0,248.5 1379.0,242.0 1387.5,237.4" fill="#ff0000"/>
<line x1="1388.0" y1="248.5" x2="1416.3" y2="174.9" stroke="#ff0000" stroke-width="3.1"/>
<polygon points="1419.5,166.5 1420.4,177.6 1411.4,174.1" fill="#ff0000"/>
<line x1="1419.5" y1="166.5" x2="1433.1" y2="177.8" stroke="#ff0000" stroke-width="3.1"/>
<polygon points="1440.0,183.5 1429.2,180.8 1435.4,173.4" fill="#ff0000"/>
<rect x="1374" y="189" width="101" height="9" fill="#00f000" shape-rendering="crispEdges"/>
<rect x="1278.5" y="180.5" width="73" height="24" fill="#fff" stroke="#ff0000" stroke-width="1" shape-rendering="crispEdges"/>
<text x="1280.2" y="201.8" font-family=''Liberation Sans', sans-serif' font-size="24px" fill="#ff0000" textLength="70" lengthAdjust="spacingAndGlyphs">26440.4</text>
<text x="1495.3" y="194.4" font-family="'Liberation Serif', 'Noto Serif CJK SC', serif" font-size="21.5px" font-weight="600" fill="#00ff00" textLength="114.5" lengthAdjust="spacing">多空转折点</text>
<rect x="1681.5" y="190.5" width="4" height="4" fill="#fff" stroke="#32cd32" stroke-width="1" shape-rendering="crispEdges"/>
</g>
<polygon points="0,34 5.5,34 2.7,30" fill="#000"/>
<text class="t" x="10" y="34.9" textLength="48.5" lengthAdjust="spacingAndGlyphs">DJ30-,Daily</text>
<text class="t" x="65.3" y="34.9" textLength="141" lengthAdjust="spacingAndGlyphs">26622.0 26720.0 26503.0 26513.0</text>
<g shape-rendering="crispEdges">
<rect x="1687" y="26" width="2" height="1" fill="#000"/>
<rect x="1687" y="59" width="2" height="1" fill="#000"/>
<rect x="1687" y="92" width="2" height="1" fill="#000"/>
<rect x="1687" y="125" width="2" height="1" fill="#000"/>
<rect x="1687" y="158" width="2" height="1" fill="#000"/>
<rect x="1687" y="191" width="2" height="1" fill="#000"/>
<rect x="1687" y="224" width="2" height="1" fill="#000"/>
<rect x="1687" y="257" width="2" height="1" fill="#000"/>
<rect x="1687" y="290" width="2" height="1" fill="#000"/>
<rect x="1687" y="323" width="2" height="1" fill="#000"/>
<rect x="1687" y="356" width="2" height="1" fill="#000"/>
<rect x="1687" y="389" width="2" height="1" fill="#000"/>
<rect x="1687" y="422" width="2" height="1" fill="#000"/>
<rect x="1687" y="455" width="2" height="1" fill="#000"/>
<rect x="1687" y="488" width="2" height="1" fill="#000"/>
<rect x="1687" y="521" width="2" height="1" fill="#000"/>
<rect x="1687" y="554" width="2" height="1" fill="#000"/>
<rect x="1687" y="587" width="2" height="1" fill="#000"/>
</g>
<text class="t" x="1692" y="29.9" textLength="33.5" lengthAdjust="spacingAndGlyphs">30076.0</text>
<text class="t" x="1692" y="62.9" textLength="33.5" lengthAdjust="spacingAndGlyphs">29366.5</text>
<text class="t" x="1692" y="95.9" textLength="33.5" lengthAdjust="spacingAndGlyphs">28635.5</text>
<text class="t" x="1692" y="128.9" textLength="33.5" lengthAdjust="spacingAndGlyphs">27904.5</text>
<text class="t" x="1692" y="161.9" textLength="33.5" lengthAdjust="spacingAndGlyphs">27174.0</text>
<text class="t" x="1692" y="194.9" textLength="33.5" lengthAdjust="spacingAndGlyphs">26443.0</text>
<text class="t" x="1692" y="227.9" textLength="33.5" lengthAdjust="spacingAndGlyphs">25733.0</text>
<text class="t" x="1692" y="260.9" textLength="33.5" lengthAdjust="spacingAndGlyphs">25023.5</text>
<text class="t" x="1692" y="293.9" textLength="33.5" lengthAdjust="spacingAndGlyphs">24292.5</text>
<text class="t" x="1692" y="326.9" textLength="33.5" lengthAdjust="spacingAndGlyphs">23583.0</text>
<text class="t" x="1692" y="359.9" textLength="33.5" lengthAdjust="spacingAndGlyphs">22852.0</text>
<text class="t" x="1692" y="392.9" textLength="33.5" lengthAdjust="spacingAndGlyphs">22121.0</text>
<text class="t" x="1692" y="425.9" textLength="33.5" lengthAdjust="spacingAndGlyphs">21411.5</text>
<text class="t" x="1692" y="458.9" textLength="33.5" lengthAdjust="spacingAndGlyphs">20680.5</text>
<text class="t" x="1692" y="491.9" textLength="33.5" lengthAdjust="spacingAndGlyphs">19949.5</text>
<text class="t" x="1692" y="524.9" textLength="33.5" lengthAdjust="spacingAndGlyphs">19240.0</text>
<text class="t" x="1692" y="557.9" textLength="33.5" lengthAdjust="spacingAndGlyphs">18509.0</text>
<text class="t" x="1692" y="590.9" textLength="33.5" lengthAdjust="spacingAndGlyphs">17799.5</text>
<g shape-rendering="crispEdges">
<rect x="1688" y="184" width="41" height="11" fill="#000"/>
<rect x="1688" y="124" width="41" height="11" fill="#ff0000"/>
<rect x="1688" y="155" width="41" height="11" fill="#ff0000"/>
<rect x="1688" y="186" width="41" height="11" fill="#32cd32"/>
<rect x="1688" y="209" width="41" height="11" fill="#0000ff"/>
<rect x="1688" y="234" width="41" height="11" fill="#0000ff"/>
</g>
<text class="tw" x="1692" y="132.9" textLength="33.5" lengthAdjust="spacingAndGlyphs">27796.5</text>
<text class="tw" x="1692" y="163.9" textLength="33.5" lengthAdjust="spacingAndGlyphs">27118.4</text>
<text class="tw" x="1692" y="194.9" textLength="33.5" lengthAdjust="spacingAndGlyphs">26440.4</text>
<text class="tw" x="1692" y="217.9" textLength="33.5" lengthAdjust="spacingAndGlyphs">25937.3</text>
<text class="tw" x="1692" y="242.9" textLength="33.5" lengthAdjust="spacingAndGlyphs">25390.5</text>
<text class="t" x="-0.6" y="604.9" textLength="127.8" lengthAdjust="spacingAndGlyphs">MACD(12,26,9) 254.59 153.18</text>
<g clip-path="url(#cmacd)">
<g shape-rendering="crispEdges">
<rect x="3" y="633" width="1" height="7" fill="#c0c0c0"/>
<rect x="11" y="632" width="1" height="8" fill="#c0c0c0"/>
<rect x="19" y="631" width="1" height="9" fill="#c0c0c0"/>
<rect x="27" y="631" width="1" height="9" fill="#c0c0c0"/>
<rect x="35" y="631" width="1" height="9" fill="#c0c0c0"/>
<rect x="43" y="631" width="1" height="9" fill="#c0c0c0"/>
<rect x="51" y="631" width="1" height="9" fill="#c0c0c0"/>
<rect x="59" y="630" width="1" height="10" fill="#c0c0c0"/>
<rect x="67" y="630" width="1" height="10" fill="#c0c0c0"/>
<rect x="75" y="632" width="1" height="8" fill="#c0c0c0"/>
<rect x="83" y="632" width="1" height="8" fill="#c0c0c0"/>
<rect x="91" y="630" width="1" height="10" fill="#c0c0c0"/>
<rect x="99" y="632" width="1" height="8" fill="#c0c0c0"/>
<rect x="107" y="633" width="1" height="7" fill="#c0c0c0"/>
<rect x="115" y="633" width="1" height="7" fill="#c0c0c0"/>
<rect x="123" y="635" width="1" height="5" fill="#c0c0c0"/>
<rect x="131" y="634" width="1" height="6" fill="#c0c0c0"/>
<rect x="139" y="633" width="1" height="7" fill="#c0c0c0"/>
<rect x="147" y="633" width="1" height="7" fill="#c0c0c0"/>
<rect x="155" y="633" width="1" height="7" fill="#c0c0c0"/>
<rect x="163" y="633" width="1" height="7" fill="#c0c0c0"/>
<rect x="171" y="633" width="1" height="7" fill="#c0c0c0"/>
<rect x="179" y="632" width="1" height="8" fill="#c0c0c0"/>
<rect x="187" y="631" width="1" height="9" fill="#c0c0c0"/>
<rect x="195" y="630" width="1" height="10" fill="#c0c0c0"/>
<rect x="203" y="629" width="1" height="11" fill="#c0c0c0"/>
<rect x="211" y="629" width="1" height="11" fill="#c0c0c0"/>
<rect x="219" y="629" width="1" height="11" fill="#c0c0c0"/>
<rect x="227" y="630" width="1" height="10" fill="#c0c0c0"/>
<rect x="235" y="629" width="1" height="11" fill="#c0c0c0"/>
<rect x="243" y="632" width="1" height="8" fill="#c0c0c0"/>
<rect x="251" y="634" width="1" height="6" fill="#c0c0c0"/>
<rect x="259" y="636" width="1" height="4" fill="#c0c0c0"/>
<rect x="267" y="637" width="1" height="3" fill="#c0c0c0"/>
<rect x="275" y="638" width="1" height="2" fill="#c0c0c0"/>
<rect x="283" y="638" width="1" height="2" fill="#c0c0c0"/>
<rect x="299" y="640" width="1" height="1" fill="#c0c0c0"/>
<rect x="307" y="640" width="1" height="2" fill="#c0c0c0"/>
<rect x="315" y="640" width="1" height="2" fill="#c0c0c0"/>
<rect x="331" y="639" width="1" height="1" fill="#c0c0c0"/>
<rect x="339" y="637" width="1" height="3" fill="#c0c0c0"/>
<rect x="347" y="638" width="1" height="2" fill="#c0c0c0"/>
<rect x="355" y="636" width="1" height="4" fill="#c0c0c0"/>
<rect x="363" y="636" width="1" height="4" fill="#c0c0c0"/>
<rect x="371" y="634" width="1" height="6" fill="#c0c0c0"/>
<rect x="379" y="633" width="1" height="7" fill="#c0c0c0"/>
<rect x="387" y="633" width="1" height="7" fill="#c0c0c0"/>
<rect x="395" y="632" width="1" height="8" fill="#c0c0c0"/>
<rect x="403" y="632" width="1" height="8" fill="#c0c0c0"/>
<rect x="411" y="633" width="1" height="7" fill="#c0c0c0"/>
<rect x="419" y="633" width="1" height="7" fill="#c0c0c0"/>
<rect x="427" y="634" width="1" height="6" fill="#c0c0c0"/>
<rect x="435" y="634" width="1" height="6" fill="#c0c0c0"/>
<rect x="443" y="638" width="1" height="2" fill="#c0c0c0"/>
<rect x="451" y="639" width="1" height="1" fill="#c0c0c0"/>
<rect x="459" y="640" width="1" height="6" fill="#c0c0c0"/>
<rect x="467" y="640" width="1" height="12" fill="#c0c0c0"/>
<rect x="475" y="640" width="1" height="21" fill="#c0c0c0"/>
<rect x="483" y="640" width="1" height="28" fill="#c0c0c0"/>
<rect x="491" y="640" width="1" height="34" fill="#c0c0c0"/>
<rect x="499" y="640" width="1" height="33" fill="#c0c0c0"/>
<rect x="507" y="640" width="1" height="35" fill="#c0c0c0"/>
<rect x="515" y="640" width="1" height="33" fill="#c0c0c0"/>
<rect x="523" y="640" width="1" height="34" fill="#c0c0c0"/>
<rect x="531" y="640" width="1" height="35" fill="#c0c0c0"/>
<rect x="539" y="640" width="1" height="39" fill="#c0c0c0"/>
<rect x="547" y="640" width="1" height="43" fill="#c0c0c0"/>
<rect x="555" y="640" width="1" height="45" fill="#c0c0c0"/>
<rect x="563" y="640" width="1" height="50" fill="#c0c0c0"/>
<rect x="571" y="640" width="1" height="63" fill="#c0c0c0"/>
<rect x="579" y="640" width="1" height="64" fill="#c0c0c0"/>
<rect x="587" y="640" width="1" height="68" fill="#c0c0c0"/>
<rect x="595" y="640" width="1" height="74" fill="#c0c0c0"/>
<rect x="603" y="640" width="1" height="81" fill="#c0c0c0"/>
<rect x="611" y="640" width="1" height="84" fill="#c0c0c0"/>
<rect x="619" y="640" width="1" height="90" fill="#c0c0c0"/>
<rect x="627" y="640" width="1" height="93" fill="#c0c0c0"/>
<rect x="635" y="640" width="1" height="98" fill="#c0c0c0"/>
<rect x="643" y="640" width="1" height="101" fill="#c0c0c0"/>
<rect x="651" y="640" width="1" height="93" fill="#c0c0c0"/>
<rect x="659" y="640" width="1" height="86" fill="#c0c0c0"/>
<rect x="667" y="640" width="1" height="72" fill="#c0c0c0"/>
<rect x="675" y="640" width="1" height="66" fill="#c0c0c0"/>
<rect x="683" y="640" width="1" height="61" fill="#c0c0c0"/>
<rect x="691" y="640" width="1" height="53" fill="#c0c0c0"/>
<rect x="699" y="640" width="1" height="48" fill="#c0c0c0"/>
<rect x="707" y="640" width="1" height="46" fill="#c0c0c0"/>
<rect x="715" y="640" width="1" height="43" fill="#c0c0c0"/>
<rect x="723" y="640" width="1" height="40" fill="#c0c0c0"/>
<rect x="731" y="640" width="1" height="36" fill="#c0c0c0"/>
<rect x="739" y="640" width="1" height="29" fill="#c0c0c0"/>
<rect x="747" y="640" width="1" height="23" fill="#c0c0c0"/>
<rect x="755" y="640" width="1" height="15" fill="#c0c0c0"/>
<rect x="763" y="640" width="1" height="7" fill="#c0c0c0"/>
<rect x="771" y="640" width="1" height="3" fill="#c0c0c0"/>
<rect x="787" y="635" width="1" height="5" fill="#c0c0c0"/>
<rect x="795" y="633" width="1" height="7" fill="#c0c0c0"/>
<rect x="803" y="629" width="1" height="11" fill="#c0c0c0"/>
<rect x="811" y="626" width="1" height="14" fill="#c0c0c0"/>
<rect x="819" y="624" width="1" height="16" fill="#c0c0c0"/>
<rect x="827" y="624" width="1" height="16" fill="#c0c0c0"/>
<rect x="835" y="626" width="1" height="14" fill="#c0c0c0"/>
<rect x="843" y="628" width="1" height="12" fill="#c0c0c0"/>
<rect x="851" y="628" width="1" height="12" fill="#c0c0c0"/>
<rect x="859" y="628" width="1" height="12" fill="#c0c0c0"/>
<rect x="867" y="628" width="1" height="12" fill="#c0c0c0"/>
<rect x="875" y="627" width="1" height="13" fill="#c0c0c0"/>
<rect x="883" y="626" width="1" height="14" fill="#c0c0c0"/>
<rect x="891" y="623" width="1" height="17" fill="#c0c0c0"/>
<rect x="899" y="623" width="1" height="17" fill="#c0c0c0"/>
<rect x="907" y="626" width="1" height="14" fill="#c0c0c0"/>
<rect x="915" y="628" width="1" height="12" fill="#c0c0c0"/>
<rect x="923" y="629" width="1" height="11" fill="#c0c0c0"/>
<rect x="931" y="628" width="1" height="12" fill="#c0c0c0"/>
<rect x="939" y="631" width="1" height="9" fill="#c0c0c0"/>
<rect x="947" y="630" width="1" height="10" fill="#c0c0c0"/>
<rect x="955" y="628" width="1" height="12" fill="#c0c0c0"/>
<rect x="963" y="627" width="1" height="13" fill="#c0c0c0"/>
<rect x="971" y="628" width="1" height="12" fill="#c0c0c0"/>
<rect x="979" y="631" width="1" height="9" fill="#c0c0c0"/>
<rect x="987" y="634" width="1" height="6" fill="#c0c0c0"/>
<rect x="995" y="635" width="1" height="5" fill="#c0c0c0"/>
<rect x="1003" y="636" width="1" height="4" fill="#c0c0c0"/>
<rect x="1011" y="636" width="1" height="4" fill="#c0c0c0"/>
<rect x="1019" y="633" width="1" height="7" fill="#c0c0c0"/>
<rect x="1027" y="631" width="1" height="9" fill="#c0c0c0"/>
<rect x="1035" y="631" width="1" height="9" fill="#c0c0c0"/>
<rect x="1043" y="630" width="1" height="10" fill="#c0c0c0"/>
<rect x="1051" y="629" width="1" height="11" fill="#c0c0c0"/>
<rect x="1059" y="628" width="1" height="12" fill="#c0c0c0"/>
<rect x="1067" y="628" width="1" height="12" fill="#c0c0c0"/>
<rect x="1075" y="626" width="1" height="14" fill="#c0c0c0"/>
<rect x="1083" y="622" width="1" height="18" fill="#c0c0c0"/>
<rect x="1091" y="621" width="1" height="19" fill="#c0c0c0"/>
<rect x="1099" y="620" width="1" height="20" fill="#c0c0c0"/>
<rect x="1107" y="620" width="1" height="20" fill="#c0c0c0"/>
<rect x="1115" y="619" width="1" height="21" fill="#c0c0c0"/>
<rect x="1123" y="618" width="1" height="22" fill="#c0c0c0"/>
<rect x="1131" y="615" width="1" height="25" fill="#c0c0c0"/>
<rect x="1139" y="614" width="1" height="26" fill="#c0c0c0"/>
<rect x="1147" y="610" width="1" height="30" fill="#c0c0c0"/>
<rect x="1155" y="606" width="1" height="34" fill="#c0c0c0"/>
<rect x="1163" y="603" width="1" height="37" fill="#c0c0c0"/>
<rect x="1171" y="602" width="1" height="38" fill="#c0c0c0"/>
<rect x="1179" y="603" width="1" height="37" fill="#c0c0c0"/>
<rect x="1187" y="609" width="1" height="31" fill="#c0c0c0"/>
<rect x="1195" y="614" width="1" height="26" fill="#c0c0c0"/>
<rect x="1203" y="619" width="1" height="21" fill="#c0c0c0"/>
<rect x="1211" y="621" width="1" height="19" fill="#c0c0c0"/>
<rect x="1219" y="621" width="1" height="19" fill="#c0c0c0"/>
<rect x="1227" y="623" width="1" height="17" fill="#c0c0c0"/>
<rect x="1235" y="624" width="1" height="16" fill="#c0c0c0"/>
<rect x="1243" y="627" width="1" height="13" fill="#c0c0c0"/>
<rect x="1251" y="630" width="1" height="10" fill="#c0c0c0"/>
<rect x="1259" y="630" width="1" height="10" fill="#c0c0c0"/>
<rect x="1267" y="631" width="1" height="9" fill="#c0c0c0"/>
<rect x="1275" y="633" width="1" height="7" fill="#c0c0c0"/>
<rect x="1283" y="635" width="1" height="5" fill="#c0c0c0"/>
<rect x="1291" y="638" width="1" height="2" fill="#c0c0c0"/>
<rect x="1299" y="639" width="1" height="1" fill="#c0c0c0"/>
<rect x="1307" y="639" width="1" height="1" fill="#c0c0c0"/>
<rect x="1315" y="639" width="1" height="1" fill="#c0c0c0"/>
<rect x="1347" y="639" width="1" height="1" fill="#c0c0c0"/>
<rect x="1355" y="637" width="1" height="3" fill="#c0c0c0"/>
<rect x="1363" y="637" width="1" height="3" fill="#c0c0c0"/>
<rect x="1371" y="636" width="1" height="4" fill="#c0c0c0"/>
<rect x="1379" y="637" width="1" height="3" fill="#c0c0c0"/>
<rect x="1387" y="636" width="1" height="4" fill="#c0c0c0"/>
<rect x="1395" y="636" width="1" height="4" fill="#c0c0c0"/>
<rect x="1403" y="635" width="1" height="5" fill="#c0c0c0"/>
<rect x="1411" y="632" width="1" height="8" fill="#c0c0c0"/>
<rect x="1419" y="630" width="1" height="10" fill="#c0c0c0"/>
<rect x="1427" y="628" width="1" height="12" fill="#c0c0c0"/>
<rect x="1435" y="628" width="1" height="12" fill="#c0c0c0"/>
</g>
<polyline points="0.0,633.4 13.9,633.4 15.9,632.5 27.7,632.5 31.9,631.4 52.6,631.4 55.4,630.4 102.5,630.4 105.3,631.5 126.0,631.5 129.5,632.5 191.0,632.5 194.0,631.5 205.0,631.5 207.8,630.4 228.5,630.4 231.3,629.4 240.0,629.4 246.2,629.4 249.0,630.4 262.2,630.4 264.9,631.4 270.5,631.4 273.2,632.5 280.2,632.5 282.9,633.4 295.4,633.4 297.5,635.2 300.9,635.5 303.7,636.6 306.5,637.6 318.3,638.0 321.7,639.4 359.1,639.4 361.9,638.4 364.7,638.4 366.7,637.6 373.7,637.3 377.1,636.3 386.8,635.5 392.4,634.5 406.2,634.3 410.4,633.4 421.4,633.4 424.9,632.5 439.4,632.5 442.2,633.4 447.8,633.4 450.5,634.3 456.1,634.5 458.8,635.5 467.1,636.3 469.9,638.0 474.1,639.4 475.5,641.5 491.2,650.2 507.9,659.9 523.1,668.2 539.7,674.3 556.3,678.4 570.2,681.2 584.0,687.6 600.7,697.3 617.3,708.3 633.9,719.4 650.5,728.3 661.6,729.7 675.5,727.7 689.3,722.2 700.4,715.3 717.0,701.4 739.2,687.6 764.1,671.8 789.0,655.2 811.2,641.3 827.8,633.6 841.7,628.0 858.3,626.3 883.2,626.3 899.8,625.2 932.3,625.3 961.4,626.6 971.1,628.5 996.9,629.8 1009.9,631.4 1035.7,631.7 1051.9,632.4 1068.0,630.1 1084.2,628.2 1100.3,625.3 1119.7,622.0 1135.9,619.5 1152.0,615.6 1164.9,612.4 1177.9,608.8 1187.6,608.2 1195.6,606.9 1206.9,608.2 1219.9,610.1 1232.8,613.3 1245.7,616.2 1252.2,620.1 1265.1,623.3 1281.3,626.6 1294.2,629.8 1303.9,632.1 1320.0,634.0 1329.7,636.9 1345.9,638.2 1358.8,639.2 1371.7,638.2 1391.1,636.9 1407.3,635.6 1420.2,634.0 1435.5,631.7" fill="none" stroke="#ff0000" stroke-width="1" stroke-dasharray="3 3" shape-rendering="crispEdges"/>
</g>
<g shape-rendering="crispEdges"><rect x="1687" y="639" width="2" height="1" fill="#000"/><rect x="1687" y="747" width="2" height="1" fill="#000"/><rect x="1687" y="752" width="2" height="1" fill="#000"/><rect x="1687" y="594" width="2" height="1" fill="#000"/></g>
<text class="t" x="1690.3" y="602.9" textLength="33" lengthAdjust="spacingAndGlyphs">1024.52</text>
<text class="t" x="1690" y="642.9" textLength="18" lengthAdjust="spacingAndGlyphs">0.00</text>
<text class="t" x="1689.8" y="744.9" textLength="36.2" lengthAdjust="spacingAndGlyphs">-2433.25</text>
<text class="t" x="-0.6" y="762.9" textLength="67" lengthAdjust="spacingAndGlyphs">RSI(14) 57.9021</text>
<g clip-path="url(#crsi)">
<line x1="2" y1="786.5" x2="1686" y2="786.5" stroke="#c0c0c0" stroke-width="1" stroke-dasharray="3 3" shape-rendering="crispEdges"/>
<line x1="2" y1="837.5" x2="1686" y2="837.5" stroke="#c0c0c0" stroke-width="1" stroke-dasharray="3 3" shape-rendering="crispEdges"/>
<line x1="2" y1="898.5" x2="1686" y2="898.5" stroke="#c0c0c0" stroke-width="1" stroke-dasharray="3 3" shape-rendering="crispEdges"/>
<polyline points="0.0,804.8 3.5,804.2 11.5,803.1 19.5,801.4 27.5,807.7 35.5,806.3 43.5,801.4 51.5,802.5 59.5,800.5 67.5,820.1 75.5,815.5 83.5,814.1 91.5,799.6 99.5,822.7 107.5,829.1 115.5,823.6 123.5,843.2 131.5,820.7 139.5,816.6 147.5,824.4 155.5,823.3 163.5,819.2 171.5,823.6 179.5,815.8 187.5,808.3 195.5,809.7 203.5,808.3 211.5,810.6 219.5,816.9 227.5,823.3 235.5,819.2 243.5,833.7 251.5,846.7 259.5,851.6 267.5,843.5 275.5,842.3 283.5,837.4 291.5,860.2 299.5,859.1 307.5,854.4 315.5,836.6 323.5,820.1 331.5,816.4 339.5,829.6 347.5,834.2 355.5,824.4 363.5,823.3 371.5,819.2 379.5,820.4 387.5,820.4 395.5,818.4 403.5,823.3 411.5,826.5 419.5,823.3 427.5,838.0 435.5,841.7 443.5,853.9 451.5,868.3 459.5,882.7 467.5,887.0 475.5,897.1 483.5,898.6 491.5,901.5 499.5,859.6 507.5,868.3 515.5,849.5 523.5,857.3 531.5,860.8 539.5,870.3 547.5,873.5 555.5,869.2 563.5,876.1 571.5,889.4 579.5,862.5 587.5,868.3 595.5,874.1 603.5,876.4 611.5,876.4 619.5,879.3 627.5,881.3 635.5,885.0 643.5,876.9 651.5,857.6 659.5,852.4 667.5,840.6 675.5,847.2 683.5,850.4 691.5,841.5 699.5,846.1 707.5,849.5 715.5,847.5 723.5,849.5 731.5,846.7 739.5,833.4 747.5,834.2 755.5,827.0 763.5,825.0 771.5,829.3 779.5,828.2 787.5,824.1 795.5,831.4 803.5,823.6 811.5,823.3 819.5,825.9 827.5,831.7 835.5,837.1 843.5,834.5 851.5,834.2 859.5,829.3 867.5,830.2 875.5,825.6 883.5,825.3 891.5,818.4 899.5,827.9 907.5,834.2 915.5,839.2 923.5,834.8 931.5,831.4 939.5,837.1 947.5,830.8 955.5,826.2 963.5,824.4 971.5,828.8 979.5,840.9 987.5,844.3 995.5,837.1 1003.5,839.2 1011.5,835.1 1019.5,822.4 1027.5,828.8 1035.5,825.3 1043.5,825.3 1051.5,826.5 1059.5,824.4 1067.5,822.1 1075.5,817.8 1083.5,807.4 1091.5,815.2 1099.5,813.2 1107.5,819.2 1115.5,818.4 1123.5,810.6 1131.5,803.1 1139.5,806.5 1147.5,796.2 1155.5,794.1 1163.5,792.4 1171.5,796.7 1179.5,813.5 1187.5,840.3 1195.5,837.1 1203.5,842.3 1211.5,829.1 1219.5,827.0 1227.5,833.4 1235.5,830.2 1243.5,839.2 1251.5,840.6 1259.5,830.2 1267.5,832.2 1275.5,843.2 1283.5,839.2 1291.5,848.1 1299.5,849.5 1307.5,837.4 1315.5,836.0 1323.5,837.1 1331.5,834.2 1339.5,836.3 1347.5,832.8 1355.5,825.6 1363.5,834.2 1371.5,831.1 1379.5,837.1 1387.5,831.7 1395.5,830.2 1403.5,830.2 1411.5,817.2 1419.5,817.2 1427.5,821.0 1435.5,824.4" fill="none" stroke="#1e90ff" stroke-width="1" shape-rendering="crispEdges"/>
</g>
<g shape-rendering="crispEdges">
</g>
<text class="t" x="1689.7" y="760.9" textLength="15" lengthAdjust="spacingAndGlyphs">100</text>
<text class="t" x="1689.7" y="789.9" textLength="10" lengthAdjust="spacingAndGlyphs">80</text>
<text class="t" x="1689.7" y="840.9" textLength="10" lengthAdjust="spacingAndGlyphs">50</text>
<text class="t" x="1689.7" y="901.9" textLength="10" lengthAdjust="spacingAndGlyphs">15</text>
<text class="t" x="1689.7" y="920.9" textLength="5" lengthAdjust="spacingAndGlyphs">0</text>
<g shape-rendering="crispEdges">
<rect x="-5" y="925" width="1" height="3" fill="#000"/>
<rect x="59" y="925" width="1" height="3" fill="#000"/>
<rect x="123" y="925" width="1" height="3" fill="#000"/>
<rect x="187" y="925" width="1" height="3" fill="#000"/>
<rect x="251" y="925" width="1" height="3" fill="#000"/>
<rect x="315" y="925" width="1" height="3" fill="#000"/>
<rect x="379" y="925" width="1" height="3" fill="#000"/>
<rect x="443" y="925" width="1" height="3" fill="#000"/>
<rect x="507" y="925" width="1" height="3" fill="#000"/>
<rect x="571" y="925" width="1" height="3" fill="#000"/>
<rect x="635" y="925" width="1" height="3" fill="#000"/>
<rect x="699" y="925" width="1" height="3" fill="#000"/>
<rect x="763" y="925" width="1" height="3" fill="#000"/>
<rect x="827" y="925" width="1" height="3" fill="#000"/>
<rect x="891" y="925" width="1" height="3" fill="#000"/>
<rect x="955" y="925" width="1" height="3" fill="#000"/>
<rect x="1019" y="925" width="1" height="3" fill="#000"/>
<rect x="1083" y="925" width="1" height="3" fill="#000"/>
<rect x="1147" y="925" width="1" height="3" fill="#000"/>
<rect x="1211" y="925" width="1" height="3" fill="#000"/>
<rect x="1275" y="925" width="1" height="3" fill="#000"/>
<rect x="1339" y="925" width="1" height="3" fill="#000"/>
<rect x="1403" y="925" width="1" height="3" fill="#000"/>
</g>
<text class="t" x="-5.8" y="936.9" textLength="51.7" lengthAdjust="spacingAndGlyphs">19 Dec 2019</text>
<text class="t" x="58.2" y="936.9" textLength="51.7" lengthAdjust="spacingAndGlyphs">29 Dec 2019</text>
<text class="t" x="122.2" y="936.9" textLength="45.1" lengthAdjust="spacingAndGlyphs">7 Jan 2020</text>
<text class="t" x="186.2" y="936.9" textLength="50.2" lengthAdjust="spacingAndGlyphs">16 Jan 2020</text>
<text class="t" x="250.2" y="936.9" textLength="50.2" lengthAdjust="spacingAndGlyphs">26 Jan 2020</text>
<text class="t" x="314.2" y="936.9" textLength="46.1" lengthAdjust="spacingAndGlyphs">4 Feb 2020</text>
<text class="t" x="378.2" y="936.9" textLength="51.2" lengthAdjust="spacingAndGlyphs">13 Feb 2020</text>
<text class="t" x="442.2" y="936.9" textLength="51.2" lengthAdjust="spacingAndGlyphs">23 Feb 2020</text>
<text class="t" x="506.2" y="936.9" textLength="46.1" lengthAdjust="spacingAndGlyphs">3 Mar 2020</text>
<text class="t" x="570.2" y="936.9" textLength="51.2" lengthAdjust="spacingAndGlyphs">12 Mar 2020</text>
<text class="t" x="634.2" y="936.9" textLength="51.2" lengthAdjust="spacingAndGlyphs">22 Mar 2020</text>
<text class="t" x="698.2" y="936.9" textLength="51.2" lengthAdjust="spacingAndGlyphs">31 Mar 2020</text>
<text class="t" x="762.2" y="936.9" textLength="44.1" lengthAdjust="spacingAndGlyphs">9 Apr 2020</text>
<text class="t" x="826.2" y="936.9" textLength="49.2" lengthAdjust="spacingAndGlyphs">20 Apr 2020</text>
<text class="t" x="890.2" y="936.9" textLength="49.2" lengthAdjust="spacingAndGlyphs">29 Apr 2020</text>
<text class="t" x="954.2" y="936.9" textLength="47.6" lengthAdjust="spacingAndGlyphs">8 May 2020</text>
<text class="t" x="1018.2" y="936.9" textLength="52.7" lengthAdjust="spacingAndGlyphs">18 May 2020</text>
<text class="t" x="1082.2" y="936.9" textLength="52.7" lengthAdjust="spacingAndGlyphs">27 May 2020</text>
<text class="t" x="1146.2" y="936.9" textLength="45.1" lengthAdjust="spacingAndGlyphs">5 Jun 2020</text>
<text class="t" x="1210.2" y="936.9" textLength="50.2" lengthAdjust="spacingAndGlyphs">15 Jun 2020</text>
<text class="t" x="1274.2" y="936.9" textLength="50.2" lengthAdjust="spacingAndGlyphs">24 Jun 2020</text>
<text class="t" x="1338.2" y="936.9" textLength="42.1" lengthAdjust="spacingAndGlyphs">3 Jul 2020</text>
<text class="t" x="1402.2" y="936.9" textLength="47.1" lengthAdjust="spacingAndGlyphs">13 Jul 2020</text>
<g shape-rendering="crispEdges">
<rect x="0" y="41" width="219" height="68" fill="#fff"/>
<rect x="0" y="43" width="50" height="24" fill="url(#gtab)"/>
<rect x="165" y="43" width="52" height="24" fill="url(#gtab)"/>
<rect x="0" y="43" width="50" height="1" fill="#d02020"/>
<rect x="165" y="43" width="52" height="1" fill="#d02020"/>
<rect x="49" y="43" width="1" height="24" fill="#c81818"/>
<rect x="165" y="43" width="1" height="24" fill="#c81818"/>
<rect x="0" y="67" width="107" height="40" fill="url(#gblk)"/>
<rect x="109" y="67" width="108" height="40" fill="url(#gblk)"/>
<rect x="106" y="67" width="1" height="40" fill="#a80000"/>
<rect x="216" y="43" width="1" height="64" fill="#b00808"/>
<rect x="2" y="66" width="44" height="1" fill="#8c0000"/><rect x="2" y="67" width="44" height="1" fill="#f06a6a"/>
<rect x="169" y="66" width="44" height="1" fill="#8c0000"/><rect x="169" y="67" width="44" height="1" fill="#f06a6a"/>
<rect x="52" y="43" width="112" height="22" fill="#a8a8b0"/>
<rect x="53" y="44" width="110" height="20" fill="#fff"/>
<rect x="53" y="44" width="20" height="20" fill="url(#gbtn)"/>
<rect x="143" y="44" width="20" height="20" fill="url(#gbtn)"/>
<rect x="73" y="44" width="1" height="20" fill="#a8a8b0"/>
<rect x="142" y="44" width="1" height="20" fill="#a8a8b0"/>
</g>
<polygon points="60,52 65.5,52 62.75,55.2" fill="#4a5ec4"/>
<polygon points="150,55.2 155.5,55.2 152.75,52" fill="#4a5ec4"/>
<text x="10.3" y="59" font-family="'Liberation Sans', sans-serif" font-size="12px" fill="#fff" textLength="25.5" lengthAdjust="spacingAndGlyphs">SELL</text>
<text x="178.5" y="59" font-family="'Liberation Sans', sans-serif" font-size="12px" fill="#fff" textLength="22.5" lengthAdjust="spacingAndGlyphs">BUY</text>
<text x="114.4" y="59" font-family="'Liberation Sans', sans-serif" font-size="12px" fill="#1a1a1a" textLength="23" lengthAdjust="spacingAndGlyphs">1.00</text>
<text x="14.3" y="97.5" font-family="'Liberation Sans', sans-serif" font-size="12px" font-weight="bold" fill="#fff" textLength="34.3" lengthAdjust="spacingAndGlyphs">26511</text>
<text x="124" y="97.5" font-family="'Liberation Sans', sans-serif" font-size="12px" font-weight="bold" fill="#fff" textLength="34.5" lengthAdjust="spacingAndGlyphs">26522</text>
<rect x="52.8" y="93.4" width="4.7" height="4.7" rx="1.3" fill="#fff"/>
<rect x="163.8" y="93.4" width="4.7" height="4.7" rx="1.3" fill="#fff"/>
<text x="60.3" y="98" font-family="'Liberation Sans', sans-serif" font-size="35px" fill="#fff" textLength="16.4" lengthAdjust="spacingAndGlyphs">5</text>
<text x="171" y="98" font-family="'Liberation Sans', sans-serif" font-size="35px" fill="#fff" textLength="16.4" lengthAdjust="spacingAndGlyphs">5</text>
<g clip-path="url(#ctb)"><rect x="-2" y="-2" width="11" height="15" fill="#fff" stroke="#2f6fba" stroke-width="1.6"/>
<path d="M0 2.5h8M0 5.5h8M0 8.5h8" stroke="#c6d6f6" stroke-width="1"/>
<path d="M22.5 -1h12v13h-12z" fill="#fbfbfb" stroke="#b8b0a4" stroke-width="1"/>
<path d="M25 1v5M25 3.5h2M32 1v5M30 2h2" stroke="#8a8a8a" stroke-width="1"/>
<line x1="34" y1="12" x2="38.6" y2="16" stroke="#c9a227" stroke-width="3" stroke-linecap="round"/>
<circle cx="30.3" cy="8" r="5" fill="#d6e8f6" fill-opacity="0.9" stroke="#4a86d8" stroke-width="1.3"/>
<rect x="28.3" y="5" width="3.5" height="6" fill="#9fb4c6"/>
<rect x="47" y="0" width="1" height="17" fill="#a0a0a0" shape-rendering="crispEdges"/>
<path d="M57 -1h8l4 4v9h-12z" fill="#fdfdfd" stroke="#8c8c8c" stroke-width="1"/>
<path d="M59 2.5h5M59 5.5h7M59 8.5h5" stroke="#9a9a9a" stroke-width="1.2"/>
<path d="M65.4 5.2h3.2v4h4v3.2h-4v4h-3.2v-4h-4v-3.2h4z" fill="#25c825" stroke="#0b8a0b" stroke-width="0.9"/>
<text x="75.6" y="9.6" font-family="'Liberation Sans', 'Noto Sans CJK SC', sans-serif" font-size="12px" fill="#000" textLength="37.6" lengthAdjust="spacingAndGlyphs">新订单</text>
<path d="M131 -1l9.5 7l-8 9.2l-8.5 -7.5z" fill="#e9b93a" stroke="#a9781a" stroke-width="1"/>
<path d="M125.5 8.5l7 6.2l7.5 -8.5" fill="none" stroke="#8a5e10" stroke-width="1.4"/>
<path d="M130 1l7 5.5" stroke="#f8e08a" stroke-width="1.5"/>
<rect x="154.8" y="-1" width="10" height="8.4" fill="#2f8fe8" stroke="#1a6fd0" stroke-width="1"/>
<path d="M157 2h6M157 4.5h6" stroke="#bfe0ff" stroke-width="1"/>
<path d="M155.4 14.3c-4.2 0 -4.6 -4.6 -1 -5c0.6 -2.6 4.4 -3 5.8 -1c2.2 -1.6 5.4 -0.3 5.2 1.6c3.8 0.2 3.6 4.4 0 4.4z" fill="#e9eef8" stroke="#7e95bd" stroke-width="1.1"/>
<circle cx="188" cy="7" r="7.6" fill="#e3ebf5" stroke="#a9bfdf" stroke-width="1.2"/>
<circle cx="188" cy="7" r="4.6" fill="#d2dff0" stroke="#5f88d2" stroke-width="1.2"/>
<path d="M188 7v8a8 8 0 0 0 7.5 -6.5" fill="#7fc08a" fill-opacity="0.7" stroke="#2f9e44" stroke-width="1.4"/>
<circle cx="188" cy="6.6" r="1.8" fill="#2a5fd0"/>
<path d="M208 5.5h15.5l-5 6v3l-4.5 -1.5v-2z" fill="#f6d24a" stroke="#c9a227" stroke-width="0.8"/>
<ellipse cx="215.5" cy="3.8" rx="7.8" ry="2.6" fill="#4aa0e0"/>
<path d="M212 3.5l2.5 -5h2l2.5 5z" fill="#4aa0e0"/>
<circle cx="219.5" cy="10.8" r="4" fill="#e02020"/>
<rect x="218" y="9.3" width="3" height="3" fill="#fff"/>
<text x="228" y="9.6" font-family="'Liberation Sans', 'Noto Sans CJK SC', sans-serif" font-size="12px" fill="#000" textLength="49.6" lengthAdjust="spacingAndGlyphs">自动交易</text>
<rect x="283" y="0" width="1" height="19" fill="#8c8c8c" shape-rendering="crispEdges"/>
<rect x="287" y="1" width="3" height="1" fill="#a8a8a8" shape-rendering="crispEdges"/>
<rect x="287" y="3" width="3" height="1" fill="#a8a8a8" shape-rendering="crispEdges"/>
<rect x="287" y="5" width="3" height="1" fill="#a8a8a8" shape-rendering="crispEdges"/>
<rect x="287" y="7" width="3" height="1" fill="#a8a8a8" shape-rendering="crispEdges"/>
<rect x="287" y="9" width="3" height="1" fill="#a8a8a8" shape-rendering="crispEdges"/>
<rect x="287" y="11" width="3" height="1" fill="#a8a8a8" shape-rendering="crispEdges"/>
<rect x="287" y="13" width="3" height="1" fill="#a8a8a8" shape-rendering="crispEdges"/>
<rect x="287" y="15" width="3" height="1" fill="#a8a8a8" shape-rendering="crispEdges"/>
<path d="M301.5 1.5V15M299 12.5H312" stroke="#5a5a5a" stroke-width="1.05" fill="none"/>
<path d="M301.5 0.3l-1.9 2.9h3.8zM313.2 12.5l-2.9 -1.9v3.8z" fill="#5a5a5a"/>
<path d="M307.5 3v8M305 10.2h2.5M307.5 3.6h2.8" stroke="#1fa01f" stroke-width="1.4" fill="none"/>
<rect x="321" y="0" width="1" height="17" fill="#a0a0a0" shape-rendering="crispEdges"/>
<rect x="322.4" y="0" width="23.400000000000034" height="18" fill="#fafafa"/>
<path d="M329.5 1.5V15M327 12.5H340" stroke="#5a5a5a" stroke-width="1.05" fill="none"/>
<path d="M329.5 0.3l-1.9 2.9h3.8zM341.2 12.5l-2.9 -1.9v3.8z" fill="#5a5a5a"/>
<path d="M335.5 -1v11.5" stroke="#109010" stroke-width="1.2"/>
<rect x="333.4" y="1" width="4.2" height="7.5" fill="#2fd52f" stroke="#109010" stroke-width="0.9"/>
<path d="M357.5 1.5V15M355 12.5H368" stroke="#5a5a5a" stroke-width="1.05" fill="none"/>
<path d="M357.5 0.3l-1.9 2.9h3.8zM369.2 12.5l-2.9 -1.9v3.8z" fill="#5a5a5a"/>
<path d="M356 10.2c3 -2 4.5 -6.5 6.5 -6.2s3.5 3.4 6 4.6" fill="none" stroke="#1fa01f" stroke-width="1.3"/>
<rect x="378" y="0" width="1" height="17" fill="#a0a0a0" shape-rendering="crispEdges"/>
<line x1="397" y1="9.3" x2="401.8" y2="14.100000000000001" stroke="#c9a227" stroke-width="3.2" stroke-linecap="round"/>
<circle cx="393" cy="4.8" r="5.3" fill="#d6ebfa" stroke="#3f7fd6" stroke-width="1.5"/>
<path d="M390 4.8h6M393 1.7999999999999998v6" stroke="#3a78c8" stroke-width="1.6"/>
<line x1="425.1" y1="9.3" x2="429.90000000000003" y2="14.100000000000001" stroke="#c9a227" stroke-width="3.2" stroke-linecap="round"/>
<circle cx="421.1" cy="4.8" r="5.3" fill="#d6ebfa" stroke="#3f7fd6" stroke-width="1.5"/>
<path d="M418.1 4.8h6" stroke="#3a78c8" stroke-width="1.6"/>
<rect x="443.3" y="-1" width="7.4" height="7.4" fill="#3d9e22"/>
<rect x="444.7" y="2.2" width="4.6" height="2.8" fill="#fff" fill-opacity="0.85"/>
<rect x="451.3" y="-1" width="7.4" height="7.4" fill="#2b63d6"/>
<rect x="452.7" y="2.2" width="4.6" height="2.8" fill="#fff" fill-opacity="0.85"/>
<rect x="443.3" y="7.3" width="7.4" height="7.4" fill="#2b63d6"/>
<rect x="444.7" y="10.5" width="4.6" height="2.8" fill="#fff" fill-opacity="0.85"/>
<rect x="451.3" y="7.3" width="7.4" height="7.4" fill="#3d9e22"/>
<rect x="452.7" y="10.5" width="4.6" height="2.8" fill="#fff" fill-opacity="0.85"/>
<rect x="468" y="0" width="1" height="17" fill="#a0a0a0" shape-rendering="crispEdges"/>
<rect x="473" y="0" width="1" height="17" fill="#a0a0a0" shape-rendering="crispEdges"/>
<rect x="474" y="0" width="23.5" height="18" fill="#fafafa"/>
<path d="M481.5 1.5V15M479 12.5H492" stroke="#5a5a5a" stroke-width="1.05" fill="none"/>
<path d="M481.5 0.3l-1.9 2.9h3.8zM493.2 12.5l-2.9 -1.9v3.8z" fill="#5a5a5a"/>
<path d="M486 3v7l4.2 -3.5z" fill="none" stroke="#1fa01f" stroke-width="1.2"/>
<rect x="501" y="0" width="1" height="17" fill="#a0a0a0" shape-rendering="crispEdges"/>
<rect x="502" y="0" width="23.600000000000023" height="18" fill="#fafafa"/>
<path d="M509.6 1.5V15M507 12.5H520" stroke="#5a5a5a" stroke-width="1.05" fill="none"/>
<path d="M509.6 0.3l-1.9 2.9h3.8zM521.2 12.5l-2.9 -1.9v3.8z" fill="#5a5a5a"/>
<path d="M515.2 1v10" stroke="#1f62b0" stroke-width="1.3"/>
<path d="M516.6 6.5l3 -2.4v1.6h2v1.6h-2v1.6z" fill="#e0541a"/>
<rect x="530" y="0" width="1" height="17" fill="#a0a0a0" shape-rendering="crispEdges"/>
<path d="M540.3 -1h8l4 4v9h-12z" fill="#fdfdfd" stroke="#8c8c8c" stroke-width="1"/>
<path d="M542.3 2.5h5M542.3 5.5h7M542.3 8.5h5" stroke="#9a9a9a" stroke-width="1.2"/>
<path d="M548.6999999999999 5.2h3.2v4h4v3.2h-4v4h-3.2v-4h-4v-3.2h4z" fill="#25c825" stroke="#0b8a0b" stroke-width="0.9"/>
<polygon points="561.8,6 567.4,6 564.5999999999999,9.2" fill="#000"/>
<circle cx="586" cy="6.9" r="6.9" fill="#fdfdfd" stroke="#1c5fc8" stroke-width="2.4"/>
<path d="M586 2.5v4.6h3.2" fill="none" stroke="#444" stroke-width="1.1"/>
<path d="M584.6 -1.4h2.8v1.8h-2.8z" fill="#1c5fc8"/>
<polygon points="600.7,6 606.3000000000001,6 603.5,9.2" fill="#000"/>
<rect x="617.5" y="-1" width="15" height="14.6" fill="#fff" stroke="#2a62c6" stroke-width="1.2"/>
<rect x="617.5" y="-1" width="15" height="2.2" fill="#3a7be0"/>
<path d="M618 7.2h14" stroke="#2a62c6" stroke-width="1"/>
<path d="M619.5 5.6l2.5 -1.4l2.2 0.6l2.2 -1.6l2.2 0.8l2.4 -1.2" fill="none" stroke="#a02010" stroke-width="1.2"/>
<path d="M619.5 11.4l2.5 -1.6l2.2 1l2.4 -2l2.2 1.2l1.8 1.2" fill="none" stroke="#109020" stroke-width="1.2"/>
<polygon points="639.7,6 645.3000000000001,6 642.5,9.2" fill="#000"/>
<rect x="651" y="0" width="1" height="19" fill="#8c8c8c" shape-rendering="crispEdges"/>
<rect x="655" y="1" width="3" height="1" fill="#a8a8a8" shape-rendering="crispEdges"/>
<rect x="655" y="3" width="3" height="1" fill="#a8a8a8" shape-rendering="crispEdges"/>
<rect x="655" y="5" width="3" height="1" fill="#a8a8a8" shape-rendering="crispEdges"/>
<rect x="655" y="7" width="3" height="1" fill="#a8a8a8" shape-rendering="crispEdges"/>
<rect x="655" y="9" width="3" height="1" fill="#a8a8a8" shape-rendering="crispEdges"/>
<rect x="655" y="11" width="3" height="1" fill="#a8a8a8" shape-rendering="crispEdges"/>
<rect x="655" y="13" width="3" height="1" fill="#a8a8a8" shape-rendering="crispEdges"/>
<rect x="655" y="15" width="3" height="1" fill="#a8a8a8" shape-rendering="crispEdges"/>
<rect x="661" y="0" width="1" height="17" fill="#a0a0a0" shape-rendering="crispEdges"/>
<rect x="662.2" y="0" width="23.799999999999955" height="18" fill="#fafafa"/>
<path d="M669 -1.5v12.2l2.8 -2.6l2.3 5.4l2 -0.9l-2.3 -5.2h3.6z" fill="#4a4a4a"/>
<path d="M694.6 7.4h5.4M703.2 7.4h5.4M701.6 0.4v5.4M701.6 9v5.4" stroke="#505050" stroke-width="1.1"/>
<rect x="718" y="0" width="1" height="17" fill="#a0a0a0" shape-rendering="crispEdges"/>
<path d="M735.5 1v13" stroke="#505050" stroke-width="1.3"/>
<path d="M758 7.4h11.8" stroke="#505050" stroke-width="1.3"/>
<path d="M785.7 13.9L798.3 1.7" stroke="#505050" stroke-width="1.2"/>
<path d="M811.5 9L822 -1M813 13.5L825.5 2M815.5 14L826 4.5" stroke="#3c3c3c" stroke-width="1"/>
<path d="M814 8v5M816.5 5.5v6M819 3.5v6M821.5 1v6M824 0v4" stroke="#3c3c3c" stroke-width="0.9"/>
<text x="822.8" y="15.8" font-family="'Liberation Sans', sans-serif" font-size="6.5px" font-weight="bold" fill="#222">E</text>
<path d="M840.8 0.3H854.2" stroke="#444" stroke-width="1" stroke-dasharray="1 1"/>
<path d="M840.8 3.6H854.2" stroke="#444" stroke-width="1" stroke-dasharray="1 1"/>
<path d="M840.8 7.4H854.2" stroke="#444" stroke-width="1" stroke-dasharray="1 1"/>
<path d="M840.8 11.3H854.2" stroke="#444" stroke-width="1" stroke-dasharray="1 1"/>
<text x="850.6" y="15.8" font-family="'Liberation Sans', sans-serif" font-size="6.5px" font-weight="bold" fill="#222">F</text>
<text x="871.6" y="11.7" font-family="'Liberation Sans', sans-serif" font-size="12px" fill="#4a4a4a" stroke="#4a4a4a" stroke-width="0.3" textLength="8" lengthAdjust="spacingAndGlyphs">A</text>
<rect x="898.5" y="1" width="11" height="12.5" fill="none" stroke="#444" stroke-width="1" stroke-dasharray="1 1"/>
<path d="M900 4.5h8.2M904.1 4.5v7.2" stroke="#4a4a4a" stroke-width="1.5" fill="none"/>
<path d="M928 0.6l2.6 2.6l-2.6 2.6l-2.6 -2.6zM936.6 8.4l2.6 2.6l-2.6 2.6l-2.6 -2.6z" fill="#3c3c3c"/>
<path d="M926.8 7.6l2.4 2.6l5.6 -6.6" fill="none" stroke="#3c3c3c" stroke-width="1.3"/>
<polygon points="945.6,6 951.2,6 948.4,9.2" fill="#000"/>
<rect x="957" y="0" width="1" height="19" fill="#8c8c8c" shape-rendering="crispEdges"/>
<rect x="961" y="1" width="3" height="1" fill="#a8a8a8" shape-rendering="crispEdges"/>
<rect x="961" y="3" width="3" height="1" fill="#a8a8a8" shape-rendering="crispEdges"/>
<rect x="961" y="5" width="3" height="1" fill="#a8a8a8" shape-rendering="crispEdges"/>
<rect x="961" y="7" width="3" height="1" fill="#a8a8a8" shape-rendering="crispEdges"/>
<rect x="961" y="9" width="3" height="1" fill="#a8a8a8" shape-rendering="crispEdges"/>
<rect x="961" y="11" width="3" height="1" fill="#a8a8a8" shape-rendering="crispEdges"/>
<rect x="961" y="13" width="3" height="1" fill="#a8a8a8" shape-rendering="crispEdges"/>
<rect x="961" y="15" width="3" height="1" fill="#a8a8a8" shape-rendering="crispEdges"/>
<rect x="1135" y="0" width="1" height="17" fill="#a0a0a0" shape-rendering="crispEdges"/>
<rect x="1136" y="0" width="24" height="18" fill="#fafafa"/>
<text x="972.0" y="10.7" font-family="'Liberation Sans', sans-serif" font-size="9.6px" text-rendering="geometricPrecision" fill="#484848" textLength="13.9" lengthAdjust="spacingAndGlyphs">M1</text>
<text x="1000.0" y="10.7" font-family="'Liberation Sans', sans-serif" font-size="9.6px" text-rendering="geometricPrecision" fill="#484848" textLength="14.0" lengthAdjust="spacingAndGlyphs">M5</text>
<text x="1026.2" y="10.7" font-family="'Liberation Sans', sans-serif" font-size="9.6px" text-rendering="geometricPrecision" fill="#484848" textLength="18.6" lengthAdjust="spacingAndGlyphs">M15</text>
<text x="1054.1" y="10.7" font-family="'Liberation Sans', sans-serif" font-size="9.6px" text-rendering="geometricPrecision" fill="#484848" textLength="18.8" lengthAdjust="spacingAndGlyphs">M30</text>
<text x="1085.4" y="10.7" font-family="'Liberation Sans', sans-serif" font-size="9.6px" text-rendering="geometricPrecision" fill="#484848" textLength="12.4" lengthAdjust="spacingAndGlyphs">H1</text>
<text x="1112.2" y="10.7" font-family="'Liberation Sans', sans-serif" font-size="9.6px" text-rendering="geometricPrecision" fill="#484848" textLength="13.3" lengthAdjust="spacingAndGlyphs">H4</text>
<text x="1141.0" y="10.7" font-family="'Liberation Sans', sans-serif" font-size="9.6px" text-rendering="geometricPrecision" fill="#484848" textLength="12.9" lengthAdjust="spacingAndGlyphs">D1</text>
<text x="1168.5" y="10.7" font-family="'Liberation Sans', sans-serif" font-size="9.6px" text-rendering="geometricPrecision" fill="#484848" textLength="15.2" lengthAdjust="spacingAndGlyphs">W1</text>
<text x="1195.0" y="10.7" font-family="'Liberation Sans', sans-serif" font-size="9.6px" text-rendering="geometricPrecision" fill="#484848" textLength="16.2" lengthAdjust="spacingAndGlyphs">MN</text>
<rect x="1218" y="0" width="1" height="19" fill="#8c8c8c" shape-rendering="crispEdges"/>
<line x1="1685.8" y1="7.2" x2="1681" y2="11.8" stroke="#1f50c8" stroke-width="2.6" stroke-linecap="round"/>
<circle cx="1688.6" cy="4.2" r="3.9" fill="#f4f6fb" stroke="#2a5fd8" stroke-width="1.5"/>
<path d="M1716 2.8a6 5 0 1 1 8.5 5.6l0.3 2.6l-2.4 -2a6 5 0 0 1 -6.4 -6.2z" fill="url(#gbub)" stroke="#969696" stroke-width="1"/>
<path d="M1707.4 8.4a5 4 0 1 1 4.6 4.2l-2.4 2.2l0.2 -2.6a5 4 0 0 1 -2.4 -3.8z" fill="url(#gbub)" stroke="#909090" stroke-width="1"/></g>
</svg>
</body></html>
